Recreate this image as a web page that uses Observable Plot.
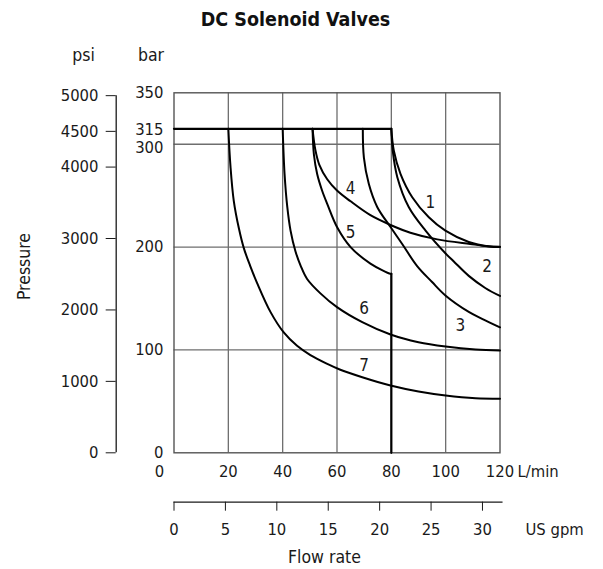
<!DOCTYPE html>
<html>
<head>
<meta charset="utf-8">
<script src="https://cdn.jsdelivr.net/npm/d3@7"></script>
<script src="https://cdn.jsdelivr.net/npm/@observablehq/plot@0.6"></script>
<style>
  body { margin: 0; background: #fff; }
  svg { font-family: "DejaVu Sans Condensed", "Liberation Sans Narrow", sans-serif; }
</style>
</head>
<body>
<div id="chart"></div>
<script>
// ---- data ----
const title = "DC Solenoid Valves";
const lpmTicks = [20, 40, 60, 80, 100, 120];
const barTicksMain = [0, 100, 200, 350];
const barTick315 = [315];
const barTick300 = [300];
const psiTicks = [0, 1000, 2000, 3000, 4000, 4500, 5000];
const gpmTicks = [0, 5, 10, 15, 20, 25, 30];
const gridLpm = [20, 40, 60, 80, 100];
const gridBar = [100, 200, 300];
const PSI_PER_BAR = 14.4;      // spacing of the psi scale as drawn
const LPM_PER_GPM = 3.785;
const gpmAxisEnd = 32;

const maxPressure = [[0, 315], [80, 315]];
const curve1 = [[80,315],[80.9,294],[83.4,271],[87.7,248.5],[93.8,229],[99.9,216],[108.5,205],[115.9,200.6],[120,200]];
const curve2 = [[80,315],[80.5,294],[82.2,268],[86.4,239],[92.6,216],[99.9,194],[103,186],[108.5,172],[114.7,160],[120,152.5]];
const curve3 = [[69.5,315],[69.9,287],[71.7,261.5],[74.8,239],[79.7,219.5],[84,203],[89.5,181.5],[95,166],[99.9,153],[108.5,137],[113.4,130.3],[120,122]];
const curve4 = [[51,315],[52,295],[53.5,280],[56.4,266],[60,255],[65,244.5],[72.3,231],[79.7,221.5],[87,214],[96.9,207.5],[109,203],[115,201],[120,200.3]];
const curve5 = [[51,315],[51.5,290],[52.7,271],[54.5,255],[56.4,242],[60.1,219],[65,200],[72.3,184],[79.7,174],[80,174]];
const curve5Drop = [[80,174],[80,0]];
const curve6 = [[40,315],[40.7,271],[41.7,239],[42.9,216],[44.7,196],[46.6,182],[49,169],[53.9,155],[60,141.6],[69.3,127],[79.7,115],[90,107.5],[100,103.3],[111,100.4],[120,99.5]];
const curve7 = [[20,315],[20.8,278],[22,245],[23.9,218],[25.7,199],[28,182],[30.6,165],[35.5,137],[40.4,117],[45.3,104],[50.2,95],[56.4,86.5],[61,81],[69.3,73.5],[79.7,65.4],[90,59.6],[100,55.7],[111,53],[120,52.5]];
const curveNames = ["1","2","3","4","5","6","7"];
const labelLpm = [94.4, 115.3, 105.4, 65, 65, 70, 70];
const labelBar = [243.6, 180.6, 123.7, 257, 214.5, 140, 85];

// ---- build tables ----
const curves = [curve1, curve2, curve3, curve4, curve5, curve6, curve7];
const curveRows = curves.flatMap((c, i) => c.map(([x, y]) => ({curve: curveNames[i], x, y})));
const straightRows = [
  ...maxPressure.map(([x, y]) => ({seg: "max", x, y})),
  ...curve5Drop.map(([x, y]) => ({seg: "drop", x, y}))
];
const labelRows = curveNames.map((name, i) => ({name, x: labelLpm[i], y: labelBar[i]}));
const psiLabel = new Map(psiTicks.map(p => [p / PSI_PER_BAR, String(p)]));
const gpmLabel = new Map(gpmTicks.map(g => [g * LPM_PER_GPM, String(g)]));

const ink = "#1a1a1a";
const gridColor = "#6e6e6e";
const fs = 16.5;

const chart = Plot.plot({
  width: 603,
  height: 569,
  marginLeft: 173.5,
  marginRight: 103.5,
  marginTop: 92.3,
  marginBottom: 116.7,
  style: {fontSize: fs + "px", color: ink, background: "#fff"},
  x: {domain: [0, 120], label: null},
  y: {domain: [0, 350], label: null},
  marks: [
    Plot.ruleX(gridLpm, {stroke: gridColor, strokeWidth: 1.3}),
    Plot.ruleY(gridBar, {stroke: gridColor, strokeWidth: 1.3}),
    Plot.frame({stroke: "#555", strokeWidth: 1.4}),
    Plot.line(straightRows, {x: "x", y: "y", z: "seg", stroke: "#000", strokeWidth: 2.2}),
    Plot.line(curveRows, {x: "x", y: "y", z: "curve", curve: "catmull-rom", stroke: "#000", strokeWidth: 2}),
    Plot.text(labelRows, {x: "x", y: "y", text: "name", fontSize: 17, fill: ink}),
    // bar axis
    Plot.axisY(barTicksMain, {anchor: "left", tickSize: 0, tickPadding: 10.5, label: null, fontSize: fs}),
    Plot.axisY(barTick315, {anchor: "left", tickSize: 0, tickPadding: 10.5, dy: 1, label: null, fontSize: fs}),
    Plot.axisY(barTick300, {anchor: "left", tickSize: 0, tickPadding: 10.5, dy: 3, label: null, fontSize: fs}),
    // psi axis
    Plot.ruleX([0], {y1: 0, y2: 5000 / PSI_PER_BAR, dx: -57.8, stroke: ink, strokeWidth: 1.3}),
    Plot.axisY(psiTicks.map(p => p / PSI_PER_BAR), {anchor: "left", dx: -57.8, tickSize: 10, tickPadding: 7.7, tickFormat: d => psiLabel.get(d), label: null, fontSize: fs, stroke: ink}),
    // L/min axis
    Plot.axisX(lpmTicks, {anchor: "bottom", tickSize: 0, tickPadding: 12.9, label: null, fontSize: fs}),
    Plot.text([0], {x: d => d, frameAnchor: "bottom", dx: -14.5, dy: 24.6, lineAnchor: "bottom", textAnchor: "middle", text: d => String(d), fontSize: fs, fill: ink}),
    Plot.text(["L/min"], {x: () => 120, frameAnchor: "bottom", dx: 17.5, dy: 24.6, lineAnchor: "bottom", textAnchor: "start", fontSize: fs, fill: ink}),
    // US gpm axis
    Plot.ruleY([0], {x1: 0, x2: gpmAxisEnd * LPM_PER_GPM, dy: 49.4, stroke: ink, strokeWidth: 1.3}),
    Plot.axisX(gpmTicks.map(g => g * LPM_PER_GPM), {anchor: "bottom", dy: 49.4, tickSize: 9, tickPadding: 11.8, tickFormat: d => gpmLabel.get(d), label: null, fontSize: fs, stroke: ink}),
    Plot.text(["US gpm"], {x: () => 120, frameAnchor: "bottom", dx: 25.5, dy: 81.9, lineAnchor: "bottom", textAnchor: "start", fontSize: fs, fill: ink}),
    Plot.text(["Flow rate"], {frameAnchor: "bottom", dx: -12.5, dy: 110.2, lineAnchor: "bottom", textAnchor: "middle", fontSize: 17.5, fill: ink}),
    // y titles
    Plot.text(["Pressure"], {frameAnchor: "left", dx: -150, dy: -6.3, rotate: -90, textAnchor: "middle", lineAnchor: "middle", fontSize: 17.5, fill: ink}),
    Plot.text(["psi"], {frameAnchor: "top-left", dx: -90.5, dy: -31.5, lineAnchor: "bottom", textAnchor: "middle", fontSize: 17.5, fill: ink}),
    Plot.text(["bar"], {frameAnchor: "top-left", dx: -23, dy: -31.5, lineAnchor: "bottom", textAnchor: "middle", fontSize: 17.5, fill: ink}),
    // title
    Plot.text([title], {frameAnchor: "top-left", dx: 121.5, dy: -67, lineAnchor: "bottom", textAnchor: "middle", fontSize: 19.5, fontWeight: "bold", fill: "#111"})
  ]
});
document.getElementById("chart").appendChild(chart);
</script>
</body>
</html>
